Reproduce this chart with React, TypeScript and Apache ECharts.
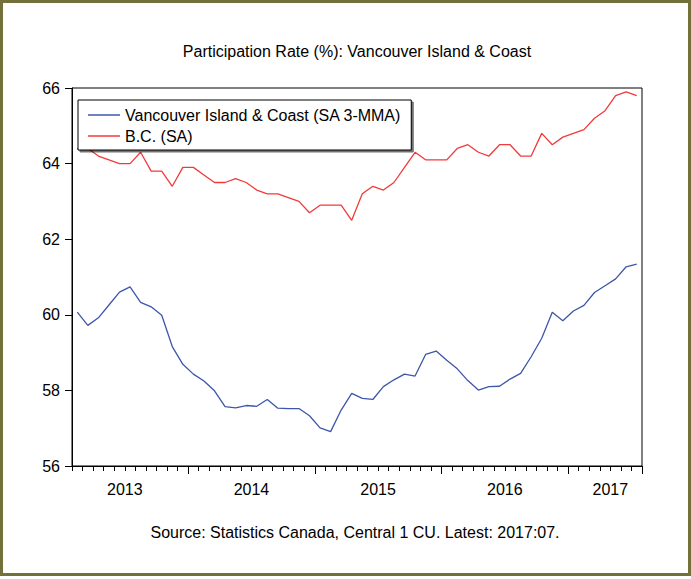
import React, { useEffect, useRef } from 'react';
import * as echarts from 'echarts';

// Monthly observations 2013:02 – 2017:07
const startYear = 2013;
const startMonth = 2;
const monthCount = 54;
const months: string[] = [];
for (let k = 0; k < monthCount; k++) {
  const m = startMonth - 1 + k;
  const y = startYear + Math.floor(m / 12);
  const mm = (m % 12) + 1;
  months.push(`${y}:${mm < 10 ? '0' + mm : mm}`);
}

const vancouverIsland: number[] = [
  60.07, 59.72, 59.92, 60.26, 60.6, 60.74, 60.33, 60.21, 59.99, 59.16,
  58.69, 58.43, 58.25, 57.99, 57.57, 57.54, 57.6, 57.58, 57.76, 57.53,
  57.52, 57.52, 57.33, 57.01, 56.91, 57.48, 57.92, 57.79, 57.76, 58.1,
  58.28, 58.43, 58.38, 58.95, 59.04, 58.8, 58.57, 58.26, 58.01, 58.1,
  58.11, 58.3, 58.45, 58.89, 59.38, 60.07, 59.84, 60.1, 60.25, 60.59,
  60.77, 60.95, 61.27, 61.34,
];

const bc: number[] = [
  64.4, 64.4, 64.2, 64.1, 64.0, 64.0, 64.3, 63.8, 63.8, 63.4,
  63.9, 63.9, 63.7, 63.5, 63.5, 63.6, 63.5, 63.3, 63.2, 63.2,
  63.1, 63.0, 62.7, 62.9, 62.9, 62.9, 62.5, 63.2, 63.4, 63.3,
  63.5, 63.9, 64.3, 64.1, 64.1, 64.1, 64.4, 64.5, 64.3, 64.2,
  64.5, 64.5, 64.2, 64.2, 64.8, 64.5, 64.7, 64.8, 64.9, 65.2,
  65.4, 65.8, 65.9, 65.8,
];

const yearLabels: string[] = ['2013', '2014', '2015', '2016', '2017'];
// label anchor, in months from the start of the axis
const yearLabelAt: number[] = [5, 17, 29, 41, 51];

const seriesNames: string[] = ['Vancouver Island & Coast (SA 3-MMA)', 'B.C. (SA)'];
const titleText = 'Participation Rate (%): Vancouver Island & Coast';
const sourceText = 'Source: Statistics Canada, Central 1 CU. Latest: 2017:07.';

const yMin = 56;
const yMax = 66;
const yStep = 2;

const FONT = '"Liberation Sans", Arial, Helvetica, sans-serif';
const BLUE = '#3d56ab';
const RED = '#f23a3a';
const BORDER = '#717139';

export default function App() {
  const ref = useRef<HTMLDivElement>(null);
  useEffect(() => {
    if (!ref.current) return;
    const chart = echarts.init(ref.current, undefined, { renderer: 'svg' });
    const option: any = {
      animation: false,
      backgroundColor: '#ffffff',
      textStyle: { fontFamily: FONT },
      grid: {
        left: 72,
        top: 88,
        width: 570,
        height: 378,
        show: true,
        borderColor: '#000',
        borderWidth: 1,
        backgroundColor: '#fff',
      },
      xAxis: [
        {
          type: 'category',
          data: months,
          boundaryGap: true,
          position: 'bottom',
          axisLine: { show: true, lineStyle: { color: '#000', width: 1 } },
          axisTick: { show: false },
          axisLabel: { show: false },
          splitLine: { show: false },
        },
        {
          type: 'category',
          data: months,
          boundaryGap: true,
          position: 'bottom',
          axisLine: { show: false },
          axisTick: {
            show: true,
            length: 8,
            interval: (_i: number, v: string) => v.endsWith(':01'),
            lineStyle: { color: '#000', width: 1 },
          },
          axisLabel: { show: false },
          splitLine: { show: false },
        },
        {
          type: 'value',
          min: 0,
          max: monthCount,
          interval: 1,
          position: 'bottom',
          axisLine: { show: false },
          axisTick: { show: true, length: 5, lineStyle: { color: '#000', width: 1 } },
          splitLine: { show: false },
          axisLabel: {
            margin: 15,
            fontSize: 16,
            color: '#000',
            fontFamily: FONT,
            formatter: (v: number) => {
              const r = Math.round(v);
              if (Math.abs(v - r) > 1e-6) return '';
              const idx = yearLabelAt.indexOf(r);
              return idx >= 0 ? yearLabels[idx] : '';
            },
          },
        },
      ],
      yAxis: {
        type: 'value',
        min: yMin,
        max: yMax,
        interval: yStep,
        axisLine: { show: true, lineStyle: { color: '#000', width: 1 } },
        axisTick: { show: true, length: 7, lineStyle: { color: '#000', width: 1 } },
        splitLine: { show: false },
        axisLabel: { fontSize: 16, color: '#000', margin: 12, fontFamily: FONT },
      },
      legend: {
        orient: 'vertical',
        left: 78,
        top: 100,
        data: seriesNames,
        icon: 'rect',
        itemWidth: 32,
        itemHeight: 1.5,
        itemGap: 5,
        padding: [7, 10, 6, 10],
        backgroundColor: '#fff',
        borderColor: '#000',
        borderWidth: 1,
        shadowColor: 'rgba(0,0,0,0.55)',
        shadowBlur: 1,
        shadowOffsetX: 2,
        shadowOffsetY: 2,
        selectedMode: false,
        textStyle: { fontSize: 16, color: '#000', fontFamily: FONT },
      },
      series: [
        {
          name: seriesNames[0],
          type: 'line',
          xAxisIndex: 0,
          data: vancouverIsland,
          symbol: 'none',
          showSymbol: false,
          lineStyle: { color: BLUE, width: 1.3 },
          itemStyle: { color: BLUE },
        },
        {
          name: seriesNames[1],
          type: 'line',
          xAxisIndex: 0,
          data: bc,
          symbol: 'none',
          showSymbol: false,
          lineStyle: { color: RED, width: 1.3 },
          itemStyle: { color: RED },
        },
      ],
      graphic: [
        {
          type: 'text',
          x: 357,
          y: 51,
          silent: true,
          style: {
            text: titleText,
            font: `16px ${FONT}`,
            fill: '#000',
            align: 'center',
            verticalAlign: 'middle',
            textAlign: 'center',
            textVerticalAlign: 'middle',
          },
        },
        {
          type: 'text',
          x: 355,
          y: 532,
          silent: true,
          style: {
            text: sourceText,
            font: `16px ${FONT}`,
            fill: '#000',
            align: 'center',
            verticalAlign: 'middle',
            textAlign: 'center',
            textVerticalAlign: 'middle',
          },
        },
        {
          type: 'rect',
          silent: true,
          z: 100,
          shape: { x: 1.5, y: 1.5, width: 688, height: 573 },
          style: { fill: 'none', stroke: BORDER, lineWidth: 3 },
        },
      ],
    };
    chart.setOption(option);
    return () => chart.dispose();
  }, []);
  return (
    <div
      ref={ref}
      style={{ position: 'absolute', left: 0, top: 0, width: 691, height: 579 }}
    />
  );
}
